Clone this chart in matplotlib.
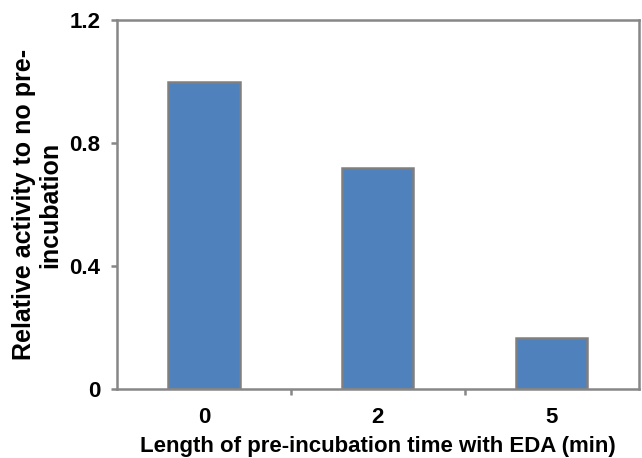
import matplotlib
matplotlib.use("Agg")
import matplotlib.pyplot as plt

# data
times = ["0", "2", "5"]
activity = [1.0, 0.72, 0.165]

plt.rcParams['font.family'] = ['Liberation Sans', 'DejaVu Sans']
plt.rcParams['font.weight'] = 'bold'

fig = plt.figure(figsize=(6.42, 4.58), dpi=100)
ax = fig.add_axes([0.182, 0.151, 0.813, 0.805])

pos = list(range(len(times)))
ax.bar(pos, activity, width=0.41, color="#4F81BD", edgecolor="#7F7F7F", linewidth=1.8)

ax.set_xlim(-0.5, len(times) - 0.5)
ax.set_ylim(0, 1.2)
ax.set_yticks([0, 0.4, 0.8, 1.2])
ax.set_yticklabels(["0", "0.4", "0.8", "1.2"])

# category labels centred, ticks between categories
ax.set_xticks(pos)
ax.set_xticklabels(times)
ax.tick_params(axis='x', which='major', length=0, pad=13, labelsize=16)
ax.set_xticks([0.5, 1.5], minor=True)
ax.tick_params(axis='x', which='minor', length=4, width=1.8, color="#878787", direction='out')
ax.tick_params(axis='y', length=4, width=1.8, color="#878787", labelsize=16, pad=8)

for s in ax.spines.values():
    s.set_color("#878787")
    s.set_linewidth(1.8)

ax.set_xlabel("Length of pre-incubation time with EDA (min)", fontsize=16, fontweight='bold', labelpad=6)
ax.set_ylabel("Relative activity to no pre-\nincubation", fontsize=18, fontweight='bold',
              labelpad=5, linespacing=1.1)

fig.savefig("out.png", dpi=100)
